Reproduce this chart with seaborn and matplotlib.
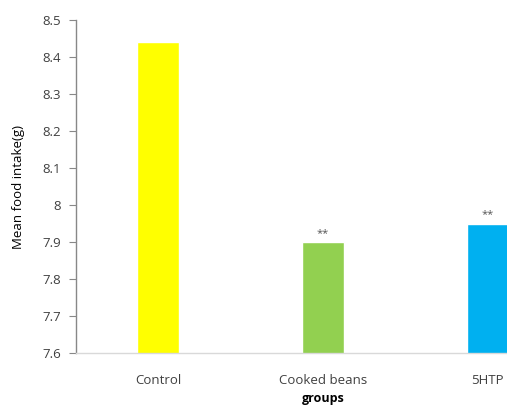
import matplotlib
matplotlib.use("Agg")
import matplotlib.pyplot as plt
import seaborn as sns
import pandas as pd

groups = ["Control", "Cooked beans", "5HTP"]
intake = [8.44, 7.90, 7.95]
marks = ["", "**", "**"]
colors = ["#FFFF00", "#92D050", "#00B0F0"]
yticks = [7.6, 7.7, 7.8, 7.9, 8.0, 8.1, 8.2, 8.3, 8.4, 8.5]
ytick_labels = ["7.6", "7.7", "7.8", "7.9", "8", "8.1", "8.2", "8.3", "8.4", "8.5"]

sns.set_theme(style="white")
plt.rcParams["font.family"] = ["Open Sans", "DejaVu Sans"]

df = pd.DataFrame({"group": groups, "intake": intake})

fig = plt.figure(figsize=(5.07, 4.07), dpi=100)
ax = fig.add_axes([0.15, 0.1327, 0.974, 0.818])

sns.barplot(data=df, x="group", y="intake", hue="group", palette=colors,
            width=0.255, legend=False, ax=ax, saturation=1)

ax.set_ylim(7.6, 8.5)
ax.set_xlim(-0.5, 2.5)
ax.set_yticks(yticks)
ax.set_yticklabels(ytick_labels)

for i, (v, m) in enumerate(zip(intake, marks)):
    if m:
        ax.text(i, v + 0.008, m, ha="center", va="bottom", fontsize=8, color="#555555")

for s in ["top", "right"]:
    ax.spines[s].set_visible(False)
ax.spines["left"].set_color("#888888")
ax.spines["left"].set_linewidth(1.0)
ax.spines["bottom"].set_color("#d9d9d9")
ax.spines["bottom"].set_linewidth(1.0)

ax.tick_params(axis="y", left=True, length=5, width=0.8, color="#888888",
               labelsize=9.5, labelcolor="#404040", pad=6)
ax.tick_params(axis="x", bottom=False, labelsize=9.5, labelcolor="#404040", pad=9)

ax.set_ylabel("Mean food intake(g)", fontsize=9.5, color="black", labelpad=12)
ax.set_xlabel("groups", fontsize=9, fontweight="bold", color="black", labelpad=4)

fig.savefig("out.png", dpi=100)
